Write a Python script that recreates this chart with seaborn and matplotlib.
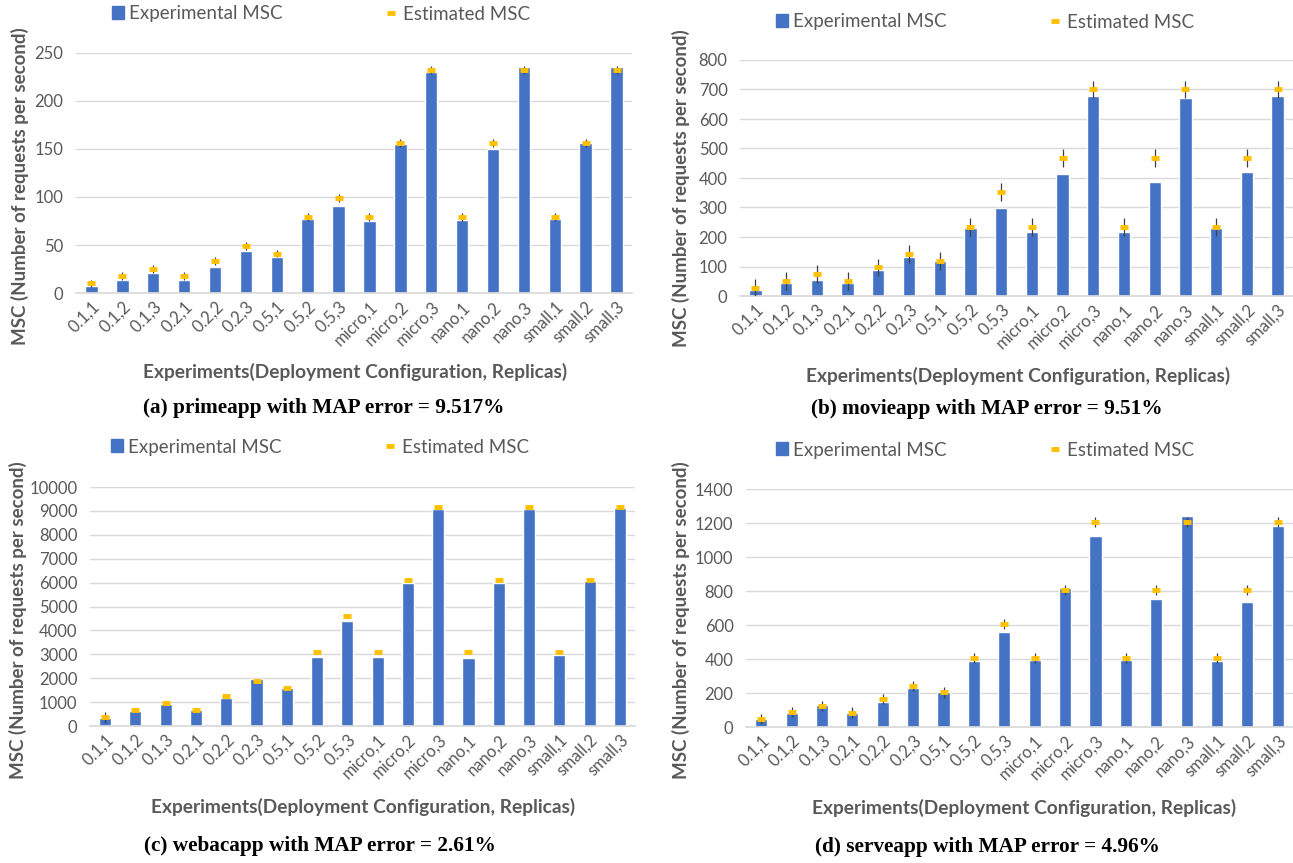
import matplotlib
matplotlib.use("Agg")
import matplotlib.pyplot as plt
import seaborn as sns
from matplotlib.patches import Patch
from matplotlib.lines import Line2D

W, H = 1293, 863
BLUE = "#4472C4"
GOLD = "#FFC000"
GRAY = "#595959"
SANS = "Lato"
SERIF = "Liberation Serif"

labels = ["0.1,1", "0.1,2", "0.1,3", "0.2,1", "0.2,2", "0.2,3", "0.5,1", "0.5,2", "0.5,3",
          "micro,1", "micro,2", "micro,3", "nano,1", "nano,2", "nano,3",
          "small,1", "small,2", "small,3"]

prime_exp = [7, 14, 21, 14, 27, 44, 38, 77, 91, 75, 155, 230, 76, 150, 235, 77, 156, 235]
prime_est = [10, 18, 25, 18, 33, 49, 41, 79, 99, 79, 156, 232, 79, 156, 232, 79, 156, 232]
prime_err = 4

movie_exp = [22, 45, 55, 45, 87, 132, 119, 232, 297, 217, 415, 677, 217, 387, 670, 232, 420, 677]
movie_est = [26, 51, 75, 51, 97, 142, 119, 235, 352, 235, 468, 700, 235, 468, 700, 235, 468, 700]
movie_err = 30

webac_exp = [330, 620, 930, 650, 1180, 1980, 1610, 2900, 4380, 2900, 5990, 9060, 2850, 5990,
             9060, 2980, 6070, 9140]
webac_est = [370, 670, 980, 670, 1260, 1900, 1570, 3100, 4600, 3100, 6100, 9180, 3100, 6100,
             9180, 3100, 6100, 9180]
webac_err = [230, 60, 60, 60, 60, 80, 60, 60, 80, 60, 60, 80, 60, 60, 80, 60, 60, 80]

serve_exp = [45, 85, 130, 80, 148, 232, 208, 388, 560, 392, 815, 1122, 392, 755, 1240, 388, 738, 1180]
serve_est = [48, 88, 125, 85, 165, 242, 203, 405, 605, 405, 805, 1205, 405, 805, 1205, 405, 805, 1205]
serve_err = 30

prime_ticks = [0, 50, 100, 150, 200, 250]
movie_ticks = [0, 100, 200, 300, 400, 500, 600, 700, 800]
webac_ticks = [0, 1000, 2000, 3000, 4000, 5000, 6000, 7000, 8000, 9000, 10000]
serve_ticks = [0, 200, 400, 600, 800, 1000, 1200, 1400]

captions = ["(a) primeapp with MAP error = 9.517%", "(b) movieapp with MAP error = 9.51%",
            "(c) webacapp with MAP error = 2.61%", "(d) serveapp with MAP error = 4.96%"]

sns.set_theme(style="white")
plt.rcParams["font.family"] = [SANS, "DejaVu Sans"]

fig = plt.figure(figsize=(W / 100, H / 100), dpi=100)
fig.patch.set_facecolor("white")


def px_rect(left, right, top, bottom):
    return [left / W, 1 - bottom / H, (right - left) / W, (bottom - top) / H]


def draw_panel(rect, exp, est, err, ticks, legend_xy, ylab_xy, xlab_xy, cap_xy, caption):
    ax = fig.add_axes(px_rect(*rect))
    sns.barplot(x=labels, y=exp, color=BLUE, width=0.4, saturation=1, ax=ax)
    ax.errorbar(range(len(labels)), est, yerr=err, fmt="none", ecolor="#404040",
                elinewidth=0.9, capsize=0, zorder=3)
    ax.plot(range(len(labels)), est, ls="none", marker="_", ms=6, mew=3.5, color=GOLD, zorder=4)

    ax.set_ylim(ticks[0], ticks[-1])
    ax.set_yticks(ticks)
    ax.set_xlim(-0.5, len(labels) - 0.5)
    ax.grid(axis="y", color="#D9D9D9", lw=1)
    ax.set_axisbelow(True)
    for s in ["top", "right", "left"]:
        ax.spines[s].set_visible(False)
    ax.spines["bottom"].set_color("#D9D9D9")
    ax.tick_params(axis="both", length=0, labelsize=12, labelcolor=GRAY)
    ax.tick_params(axis="y", pad=9)
    ax.tick_params(axis="x", pad=4)
    plt.setp(ax.get_xticklabels(), rotation=45, ha="right", rotation_mode="anchor")
    ax.set_xlabel("")
    ax.set_ylabel("")

    handles = [Patch(facecolor=BLUE, edgecolor=BLUE),
               Line2D([], [], ls="none", marker="_", ms=6, mew=3.5, color=GOLD)]
    ax.legend(handles, ["Experimental MSC", "Estimated MSC"], loc="center", ncol=2,
              frameon=False, fontsize=13.5, labelcolor=GRAY, columnspacing=5.5,
              handlelength=0.6, handletextpad=0.3,
              bbox_to_anchor=(legend_xy[0] / W, 1 - legend_xy[1] / H),
              bbox_transform=fig.transFigure)

    fig.text(ylab_xy[0] / W, 1 - ylab_xy[1] / H, "MSC (Number of requests per second)",
             rotation=90, ha="center", va="center", fontsize=13.5, fontweight="bold", color=GRAY)
    fig.text(xlab_xy[0] / W, 1 - xlab_xy[1] / H, "Experiments(Deployment Configuration, Replicas)",
             ha="center", va="center", fontsize=13.8, fontweight="bold", color=GRAY)
    fig.text(cap_xy[0] / W, 1 - cap_xy[1] / H, caption, ha="center", va="center",
             fontsize=15.3, fontweight="bold", family=SERIF, color="black")
    return ax


draw_panel((76, 632, 53, 293), prime_exp, prime_est, prime_err, prime_ticks,
           (321, 14), (20, 186), (355, 372), (324, 408), captions[0])
draw_panel((740, 1293, 60, 296), movie_exp, movie_est, movie_err, movie_ticks,
           (985, 22), (681, 188), (1018, 376), (987, 409), captions[1])
draw_panel((90, 635, 487, 726), webac_exp, webac_est, webac_err, webac_ticks,
           (320, 447), (18, 620), (363, 807), (320, 846), captions[2])
draw_panel((746, 1293, 489, 727), serve_exp, serve_est, serve_err, serve_ticks,
           (985, 450), (681, 620), (1024, 808), (987, 847), captions[3])

fig.savefig("out.png", dpi=100, facecolor="white")
